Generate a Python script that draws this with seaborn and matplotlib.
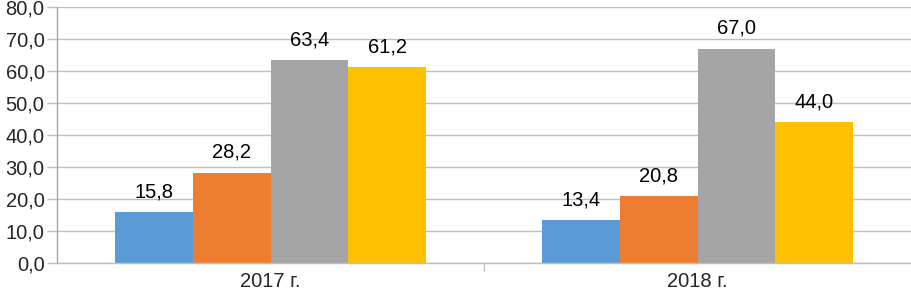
import pandas as pd
import seaborn as sns
import matplotlib.pyplot as plt
from matplotlib.ticker import FuncFormatter, FixedLocator

years = ['2017 г.', '2018 г.']
series = ['Ряд 1', 'Ряд 2', 'Ряд 3', 'Ряд 4']
values_2017 = [15.8, 28.2, 63.4, 61.2]
values_2018 = [13.4, 20.8, 67.0, 44.0]
colors = ['#5B9BD5', '#ED7D31', '#A5A5A5', '#FFC000']

rows = []
for year, vals in zip(years, [values_2017, values_2018]):
    for s, v in zip(series, vals):
        rows.append({'year': year, 'series': s, 'value': v})
df = pd.DataFrame(rows)

sns.set_style('white')
plt.rcParams['font.family'] = ['Liberation Sans', 'DejaVu Sans']

fig = plt.figure(figsize=(9.11, 2.94), dpi=100)
ax = fig.add_axes([0.0626, 0.1054, 0.9374, 0.8706])

sns.barplot(data=df, x='year', y='value', hue='series', palette=colors,
            width=0.73, gap=0, saturation=1, ax=ax, legend=False,
            edgecolor='none', linewidth=0)

comma = lambda v: f'{v:.1f}'.replace('.', ',')
for cont in ax.containers:
    ax.bar_label(cont, labels=[comma(b.get_height()) for b in cont],
                 padding=8, fontsize=14.5, color='#000000')

ax.set_ylim(0, 80)
ax.set_xlim(-0.5, 1.5)
ax.set_yticks(range(0, 81, 10))
ax.yaxis.set_major_formatter(FuncFormatter(lambda v, p: comma(v)))
ax.grid(axis='y', color='#BFBFBF', linewidth=1)
ax.set_axisbelow(True)

ax.xaxis.set_minor_locator(FixedLocator([0.5]))
ax.tick_params(axis='x', which='major', bottom=False, length=0, labelsize=14.5, pad=6.5)
ax.tick_params(axis='x', which='minor', bottom=True, length=6, color='#BFBFBF', width=1, direction='out')
ax.tick_params(axis='y', left=True, length=7, color='#BFBFBF', width=1, labelsize=14.5, pad=2, direction='out')

for side in ['top', 'right']:
    ax.spines[side].set_visible(False)
ax.spines['left'].set_color('#A6A6A6')
ax.spines['bottom'].set_color('#BFBFBF')
for side in ['left', 'bottom']:
    ax.spines[side].set_linewidth(1)

ax.set_xlabel('')
ax.set_ylabel('')

fig.savefig('out.png', dpi=100)
